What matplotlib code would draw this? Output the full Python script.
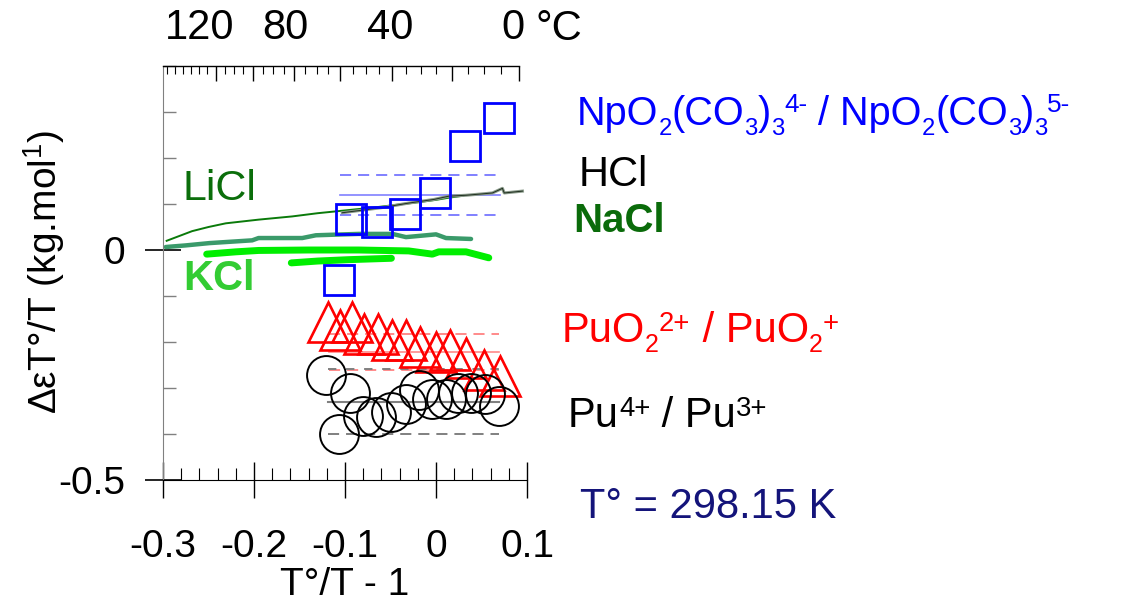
import matplotlib
matplotlib.use("Agg")
import matplotlib.pyplot as plt
from matplotlib.ticker import FixedLocator, MultipleLocator, FixedFormatter
from matplotlib.transforms import ScaledTranslation
import numpy as np

plt.rcParams['font.family'] = ['Liberation Sans', 'DejaVu Sans']
plt.rcParams['mathtext.fontset'] = 'custom'
plt.rcParams['mathtext.rm'] = 'Liberation Sans'
plt.rcParams['mathtext.it'] = 'Liberation Sans'
plt.rcParams['mathtext.bf'] = 'Liberation Sans:bold'
plt.rcParams['mathtext.default'] = 'rm'

# ---------------- data ----------------
np_x = [-0.1066, -0.0934, -0.0648, -0.0341, -0.0011, 0.0319, 0.0692]
np_y = [-0.065, 0.067, 0.061, 0.078, 0.123, 0.225, 0.286]
np_ref_x = [-0.105, 0.070]
np_mean, np_lo, np_hi = 0.120, 0.077, 0.163

puo2_x = [-0.1187, -0.1055, -0.0920, -0.0790, -0.0637, -0.0487, -0.0333,
          -0.0179, -0.0004, 0.0157, 0.0326, 0.0527, 0.0700]
puo2_y = [-0.157, -0.175, -0.157, -0.183, -0.183, -0.196, -0.196,
          -0.210, -0.222, -0.217, -0.234, -0.260, -0.275]
puo2_ref_x = [-0.1176, 0.069]
puo2_mean, puo2_lo, puo2_hi = -0.222, -0.260, -0.183

pu_x = [-0.1205, -0.0940, -0.1066, -0.0800, -0.0656, -0.0498, -0.0330,
        -0.0187, -0.0040, 0.0106, 0.0245, 0.0390, 0.0540, 0.0690]
pu_y = [-0.271, -0.311, -0.399, -0.361, -0.363, -0.352, -0.334,
        -0.305, -0.323, -0.325, -0.311, -0.311, -0.312, -0.340]
pu_ref_x = [-0.119, 0.069]
pu_mean, pu_lo, pu_hi = -0.330, -0.399, -0.258

licl_x = [-0.296, -0.280, -0.268, -0.250, -0.231, -0.195, -0.158, -0.130,
          -0.100, -0.070, -0.040, -0.019, 0.000, 0.015, 0.030]
licl_y = [0.020, 0.032, 0.041, 0.050, 0.058, 0.066, 0.073, 0.080,
          0.086, 0.092, 0.099, 0.104, 0.109, 0.114, 0.118]

hcl_x = [-0.103, -0.060, -0.030, -0.002, 0.014, 0.033, 0.051, 0.062, 0.073, 0.075, 0.095]
hcl_y = [0.081, 0.092, 0.102, 0.110, 0.117, 0.119, 0.122, 0.124, 0.134, 0.124, 0.128]

nacl_x = [-0.297, -0.275, -0.249, -0.202, -0.195, -0.147, -0.132, -0.085,
          -0.048, -0.033, 0.000, 0.011, 0.0385]
nacl_y = [0.0065, 0.010, 0.015, 0.021, 0.026, 0.026, 0.032, 0.035,
          0.035, 0.028, 0.034, 0.026, 0.024]

kcl1_x = [-0.252, -0.220, -0.195, -0.140, -0.085, -0.030, -0.004, 0.003, 0.033, 0.058]
kcl1_y = [-0.009, -0.004, -0.001, 0.000, 0.000, -0.002, -0.009, -0.004, -0.004, -0.017]
kcl2_x = [-0.159, -0.130, -0.096, -0.049]
kcl2_y = [-0.028, -0.024, -0.021, -0.018]

x_ticks = [-0.3, -0.2, -0.1, 0, 0.1]
x_ticklabels = ['-0.3', '-0.2', '-0.1', '0', '0.1']
y_ticks = [-0.5, 0]
y_ticklabels = ['-0.5', '0']
temp_major = [120, 100, 80, 60, 40, 20, 0]
temp_labels = ['120', '', '80', '', '40', '', '0']

T0 = 298.15

# ---------------- figure ----------------
W, H = 1130, 601
fig = plt.figure(figsize=(W / 100, H / 100), dpi=100)
ax = fig.add_axes([163 / W, 1 - 480 / H, 364 / W, 414 / H])
ax.set_xlim(-0.3, 0.1)
ax.set_ylim(-0.5, 0.4)

def dash(lw, d=8, g=5):
    return (0, (d / lw, g / lw))

# reference lines
lwr = 1.4
ax.plot(np_ref_x, [np_mean] * 2, color='#8080ff', lw=1.2)
ax.plot(np_ref_x, [np_lo] * 2, color='#8080ff', lw=lwr, ls=dash(lwr))
ax.plot(np_ref_x, [np_hi] * 2, color='#8080ff', lw=lwr, ls=dash(lwr))
ax.plot(puo2_ref_x, [puo2_mean] * 2, color='#ff8a8a', lw=1.2)
ax.plot(puo2_ref_x, [puo2_lo] * 2, color='#ff8a8a', lw=lwr, ls=dash(lwr))
ax.plot(puo2_ref_x, [puo2_hi] * 2, color='#ff8a8a', lw=lwr, ls=dash(lwr))
ax.plot(pu_ref_x, [pu_mean] * 2, color='#808080', lw=1.5)
ax.plot(pu_ref_x, [pu_lo] * 2, color='#808080', lw=lwr, ls=dash(lwr))
ax.plot(pu_ref_x, [pu_hi] * 2, color='#808080', lw=lwr, ls=dash(lwr, 6, 7))

# electrolyte lines
ax.plot(licl_x, licl_y, color='#0a7a0a', lw=1.4)
ax.plot(hcl_x, hcl_y, color='#8a9a8a', lw=2.2)
ax.plot(hcl_x, hcl_y, color='#203020', lw=0.7)
ax.plot(nacl_x, nacl_y, color='#3a9a6a', lw=3.2, solid_capstyle='round')
ax.plot(kcl1_x, kcl1_y, color='#00ee00', lw=5, solid_capstyle='round')
ax.plot(kcl2_x, kcl2_y, color='#00ee00', lw=5, solid_capstyle='round')

# markers
ax.plot(np_x, np_y, ls='none', marker='s', ms=21.5, mfc='none', mec='#0000ff', mew=2.0)
ax.plot(puo2_x, puo2_y, ls='none', marker='^', ms=28.5, mfc='none', mec='#ff0000', mew=1.9)
ax.plot(pu_x, pu_y, ls='none', marker='o', ms=28, mfc='none', mec='black', mew=1.4)

# axes styling
ax.spines['right'].set_visible(False)
ax.spines['left'].set_color('#808080')
x0C = T0 / 273.15 - 1
ax.spines['top'].set_bounds(-0.3, x0C)
ax.spines['top'].set_linewidth(1.0)

ax.xaxis.set_major_locator(FixedLocator(x_ticks))
ax.xaxis.set_major_formatter(FixedFormatter(x_ticklabels))
ax.xaxis.set_minor_locator(MultipleLocator(0.02))
ax.yaxis.set_major_locator(FixedLocator(y_ticks))
ax.yaxis.set_major_formatter(FixedFormatter(y_ticklabels))
ax.yaxis.set_minor_locator(MultipleLocator(0.1))

ax.tick_params(axis='x', which='major', direction='inout', length=26, width=1.0,
               labelsize=28, pad=22, top=False)
ax.tick_params(axis='x', which='minor', direction='in', length=9, width=0.8, top=False)
ax.tick_params(axis='y', which='major', direction='inout', length=26, width=1.2,
               labelsize=28, pad=14, right=False)
ax.tick_params(axis='y', which='minor', direction='in', length=9, width=1.0,
               color='#808080', right=False)

sec = ax.secondary_xaxis('top', functions=(lambda x: T0 / (x + 1) - 273.15,
                                           lambda t: T0 / (t + 273.15) - 1))
sec.spines['top'].set_visible(False)
sec.xaxis.set_major_locator(FixedLocator(temp_major))
sec.xaxis.set_major_formatter(FixedFormatter(temp_labels))
sec.xaxis.set_minor_locator(FixedLocator(list(range(0, 155, 5))))
sec.tick_params(which='major', direction='in', length=11, width=1.0, labelsize=30, pad=13)
sec.tick_params(which='minor', direction='in', length=6, width=0.8)

# shift top labels slightly left, as in the reference
shifts = {'120': -16, '80': -9, '40': -2, '0': -6}
fig.canvas.draw()
renderer = fig.canvas.get_renderer()
for lab in sec.xaxis.get_ticklabels():
    s = lab.get_text()
    if s in shifts:
        lab.set_transform(lab.get_transform() +
                          ScaledTranslation(shifts[s] / 100, 0, fig.dpi_scale_trans))

def px(x, y):
    return x / W, 1 - y / H

def rich(x, y, parts, fontsize, color, sub=0.6, sup=0.66, raise_px=11, drop_px=10):
    """Lay out text pieces side by side: kind 'n' normal, 'b' sub, 'p' sup."""
    cur = x
    for s, kind in parts:
        fs = fontsize if kind == 'n' else fontsize * (sub if kind == 'b' else sup)
        yy = y - raise_px if kind == 'p' else (y + drop_px if kind == 'b' else y)
        t = fig.text(*px(cur, yy), s, fontsize=fs, color=color,
                     ha='left', va='baseline')
        cur += t.get_window_extent(renderer).width

fig.text(*px(536, 40), '°C', fontsize=30, ha='left', va='baseline')

fig.text(*px(345, 595), 'T°/T - 1', fontsize=28, ha='center', va='baseline')
fig.text(*px(44, 272), 'ΔεT°/T (kg.mol$^1$)', fontsize=28, rotation=90,
         ha='center', va='center')

fig.text(*px(183, 200), 'LiCl', fontsize=31, color='#0b6e0b', va='baseline')
fig.text(*px(183, 290), 'KCl', fontsize=30, color='#33cc33', fontweight='bold', va='baseline')
fig.text(*px(579, 186), 'HCl', fontsize=30, color='black', va='baseline')
fig.text(*px(573, 232), 'NaCl', fontsize=29, color='#0a6b0a', fontweight='bold', va='baseline')

rich(577, 125, [('NpO', 'n'), ('2', 'b'), ('(CO', 'n'), ('3', 'b'), (')', 'n'),
                ('3', 'b'), ('4-', 'p'), (' / NpO', 'n'), ('2', 'b'), ('(CO', 'n'),
                ('3', 'b'), (')', 'n'), ('3', 'b'), ('5-', 'p')], 28.5, '#0000ff',
     raise_px=13)
rich(562, 342, [('PuO', 'n'), ('2', 'b'), ('2+', 'p'), (' / PuO', 'n'), ('2', 'b'),
                ('+', 'p')], 30, '#ff0000')
rich(568, 427, [('Pu', 'n'), ('4+', 'p'), (' / Pu', 'n'), ('3+', 'p')], 30, 'black')
fig.text(*px(580, 518), 'T° = 298.15 K', fontsize=30, color='#14147a', va='baseline')

fig.savefig('out.png', dpi=100)
